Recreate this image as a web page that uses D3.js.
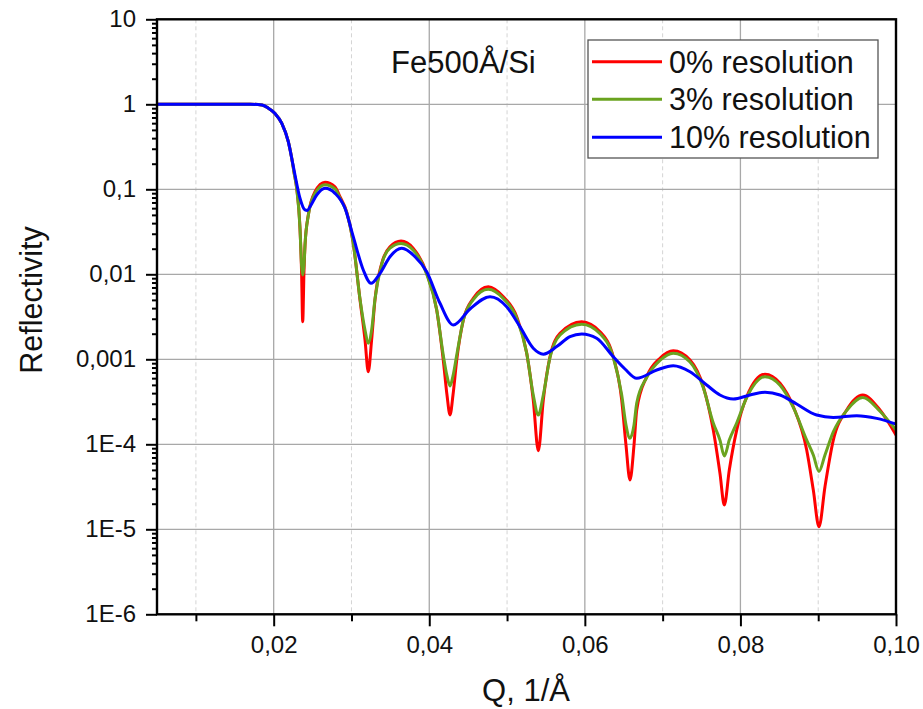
<!DOCTYPE html>
<html>
<head>
<meta charset="utf-8">
<script src="https://cdn.jsdelivr.net/npm/d3@7"></script>
<style>
  html, body { margin: 0; padding: 0; background: #fff; }
  svg { display: block; font-family: "Liberation Sans", Arial, sans-serif; }
</style>
</head>
<body>
<svg id="chart" width="923" height="709"></svg>
<script>
// Reflectivity curves of a 500 Å Fe film on Si for three instrumental resolutions.

// Q grid shared by the 0% and 3% resolution curves (1/Å)
const qSharp = [
  0.005, 0.0105, 0.0170, 0.0185, 0.01931, 0.02017, 0.02103, 0.02188, 0.02232, 0.02261,
  0.02296, 0.02338, 0.02358, 0.02373, 0.0239, 0.02403, 0.02445, 0.02531, 0.0266, 0.02788,
  0.02852, 0.02939, 0.03023, 0.0311, 0.03174, 0.03216, 0.03259, 0.03302, 0.03389, 0.03495,
  0.03637, 0.03795, 0.03967, 0.04096, 0.0418, 0.04228, 0.04267, 0.04305, 0.04353, 0.04438,
  0.04566, 0.04759, 0.04952, 0.05124, 0.05253, 0.05337, 0.05402, 0.05466, 0.05552, 0.05681,
  0.0596, 0.06195, 0.06366, 0.06474, 0.06529, 0.0658, 0.06632, 0.06667, 0.06795, 0.06966,
  0.07137, 0.07352, 0.07523, 0.07651, 0.07737, 0.07793, 0.07857, 0.07952, 0.08081, 0.08316,
  0.08509, 0.0868, 0.08852, 0.08937, 0.0901, 0.09087, 0.09194, 0.09366, 0.09572, 0.09794,
  0.1
];

// 0% resolution
const rRes0 = [
  1.0, 1.0, 1.0, 0.981, 0.90, 0.78, 0.60, 0.363, 0.232, 0.160,
  0.103, 0.0348, 0.0112, 0.00277, 0.0112, 0.0221, 0.0499, 0.0937, 0.121, 0.107,
  0.0818, 0.054, 0.0232, 0.00499, 0.00169, 0.000714, 0.00169, 0.00499, 0.01346, 0.0211,
  0.0246, 0.0202, 0.01028, 0.0038, 0.00098, 0.00038, 0.000221, 0.00038, 0.00098, 0.0029,
  0.00522, 0.00715, 0.00545, 0.00317, 0.00118, 0.000332, 8.41e-5, 0.000332, 0.00107, 0.00202,
  0.00277, 0.00211, 0.00107, 0.000332, 9.8e-5, 3.8e-5, 9.8e-5, 0.000253, 0.000624, 0.00103,
  0.00126, 0.00098, 0.000476, 0.000147, 4.56e-5, 1.93e-5, 4.99e-5, 0.000147, 0.000363, 0.000667,
  0.000522, 0.000277, 8.57e-5, 2.9e-5, 1.07e-5, 3.17e-5, 0.000112, 0.000253, 0.00038, 0.000253,
  0.000129
];

// 3% resolution
const rRes3 = [
  1.0, 1.0, 1.0, 0.981, 0.90, 0.78, 0.60, 0.363, 0.232, 0.158,
  0.102, 0.0352, 0.0129, 0.0098, 0.0129, 0.0224, 0.0492, 0.0900, 0.113, 0.101,
  0.0785, 0.053, 0.0232, 0.0051, 0.00221, 0.00154, 0.00221, 0.0051, 0.0132, 0.0203,
  0.0230, 0.0192, 0.0100, 0.0038, 0.00112, 0.000637, 0.000485, 0.000637, 0.00112, 0.0029,
  0.00505, 0.00669, 0.00520, 0.00305, 0.00118, 0.00038, 0.000221, 0.00038, 0.00105, 0.00193,
  0.00259, 0.00200, 0.00105, 0.00038, 0.000169, 0.000118, 0.000169, 0.000306, 0.000610, 0.00097,
  0.00118, 0.00093, 0.000462, 0.000178, 0.000112, 7.28e-5, 0.000112, 0.000178, 0.000355, 0.000624,
  0.000495, 0.000272, 0.000112, 7.48e-5, 4.79e-5, 7.48e-5, 0.00014, 0.000250, 0.000355, 0.000245,
  0.000147
];

// 10% resolution
const qRes10 = [
  0.005, 0.0105, 0.0170, 0.0185, 0.01931, 0.02017, 0.02103, 0.02188, 0.02232, 0.02274,
  0.02338, 0.02403, 0.02432, 0.02467, 0.02553, 0.0266, 0.02788, 0.02917, 0.03023, 0.03152,
  0.03251, 0.03367, 0.03495, 0.03646, 0.03817, 0.03967, 0.04138, 0.04309, 0.04524, 0.04781,
  0.04995, 0.05166, 0.05337, 0.05466, 0.05638, 0.05809, 0.0596, 0.06152, 0.06366, 0.06516,
  0.06667, 0.06924, 0.07137, 0.07352, 0.07566, 0.07737, 0.07908, 0.08123, 0.08316, 0.08509,
  0.08723, 0.0898, 0.09194, 0.09495, 0.09752, 0.1
];
const rRes10 = [
  1.0, 1.0, 1.0, 0.981, 0.90, 0.78, 0.60, 0.363, 0.232, 0.147,
  0.0784, 0.0571, 0.0563, 0.0624, 0.0857, 0.1028, 0.0897, 0.0598, 0.0277, 0.01124,
  0.00783, 0.01028, 0.0161, 0.0202, 0.0161, 0.01074, 0.00456, 0.00253, 0.00391, 0.00545,
  0.00416, 0.00242, 0.00135, 0.00115, 0.00141, 0.00185, 0.00199, 0.00177, 0.00107, 0.000769,
  0.000598, 0.000748, 0.000842, 0.000715, 0.000499, 0.00038, 0.000341, 0.00038, 0.000409, 0.00038,
  0.000298, 0.000221, 0.000207, 0.000217, 0.000202, 0.000173
];

const seriesNames = ["0% resolution", "3% resolution", "10% resolution"];
const seriesColors = ["#ff0000", "#6aa31f", "#0000ff"];

// Axis ticks
const xTickValues = [0.02, 0.04, 0.06, 0.08, 0.10];
const xTickLabels = ["0,02", "0,04", "0,06", "0,08", "0,10"];
const xMinorValues = [0.01, 0.03, 0.05, 0.07, 0.09];
const yTickValues = [1e-6, 1e-5, 1e-4, 1e-3, 1e-2, 1e-1, 1, 10];
const yTickLabels = ["1E-6", "1E-5", "1E-4", "0,001", "0,01", "0,1", "1", "10"];

const sampleLabel = "Fe500Å/Si";
const xTitle = "Q, 1/Å";
const yTitle = "Reflectivity";

// ---- layout ----
const svg = d3.select("#chart");
const plotL = 157, plotR = 896, plotT = 19.3, plotB = 614.3;

const x = d3.scaleLinear().domain([0.005, 0.10]).range([plotL, plotR]);
const y = d3.scaleLog().domain([1e-6, 10]).range([plotB, plotT]);

// minor y ticks: 2..9 in every decade
const yMinorValues = [];
for (let e = -6; e < 1; e++) {
  for (let m = 2; m <= 9; m++) yMinorValues.push(m * Math.pow(10, e));
}

// ---- grid ----
const grid = svg.append("g");
grid.selectAll("line.xminor").data(xMinorValues).join("line")
  .attr("x1", d => x(d)).attr("x2", d => x(d))
  .attr("y1", plotT).attr("y2", plotB)
  .attr("stroke", "#d4d4d4").attr("stroke-width", 1)
  .attr("stroke-dasharray", "4,3");
grid.selectAll("line.xmajor").data(xTickValues.filter(d => d < 0.1)).join("line")
  .attr("x1", d => x(d)).attr("x2", d => x(d))
  .attr("y1", plotT).attr("y2", plotB)
  .attr("stroke", "#a8a8a8").attr("stroke-width", 1.3);
grid.selectAll("line.ymajor").data(yTickValues.slice(1, -1)).join("line")
  .attr("x1", plotL).attr("x2", plotR)
  .attr("y1", d => y(d)).attr("y2", d => y(d))
  .attr("stroke", "#a8a8a8").attr("stroke-width", 1.3);

// ---- curves ----
const line = d3.line()
  .x(d => x(d[0]))
  .y(d => y(d[1]))
  .curve(d3.curveMonotoneX);

const seriesData = [
  d3.zip(qSharp, rRes0),
  d3.zip(qSharp, rRes3),
  d3.zip(qRes10, rRes10)
];

svg.append("defs").append("clipPath").attr("id", "plotClip")
  .append("rect").attr("x", plotL).attr("y", plotT)
  .attr("width", plotR - plotL).attr("height", plotB - plotT);

const curves = svg.append("g").attr("clip-path", "url(#plotClip)");
seriesData.forEach((data, i) => {
  curves.append("path")
    .datum(data)
    .attr("d", line)
    .attr("fill", "none")
    .attr("stroke", seriesColors[i])
    .attr("stroke-width", 3)
    .attr("stroke-linejoin", "round")
    .attr("stroke-linecap", "round");
});

// ---- axes ----
const axisFont = 24;

const yAxis = svg.append("g").attr("transform", `translate(${plotL},0)`)
  .call(d3.axisLeft(y).tickValues(yTickValues)
    .tickFormat((d, i) => yTickLabels[i]).tickSize(11).tickPadding(10));
const yMinor = svg.append("g").attr("transform", `translate(${plotL},0)`)
  .call(d3.axisLeft(y).tickValues(yMinorValues).tickFormat("").tickSize(5));

const xAxis = svg.append("g").attr("transform", `translate(0,${plotB})`)
  .call(d3.axisBottom(x).tickValues(xTickValues)
    .tickFormat((d, i) => xTickLabels[i]).tickSize(12).tickPadding(10));
const xMinor = svg.append("g").attr("transform", `translate(0,${plotB})`)
  .call(d3.axisBottom(x).tickValues(xMinorValues).tickFormat("").tickSize(7));

[yAxis, yMinor, xAxis, xMinor].forEach(g => {
  g.select(".domain").remove();
  g.selectAll(".tick line").attr("stroke", "#000").attr("stroke-width", 2);
  g.selectAll("text").attr("font-size", axisFont).attr("fill", "#111")
    .attr("font-family", "'Liberation Sans', Arial, sans-serif");
});

// frame
svg.append("rect")
  .attr("x", plotL).attr("y", plotT)
  .attr("width", plotR - plotL).attr("height", plotB - plotT)
  .attr("fill", "none").attr("stroke", "#000").attr("stroke-width", 2.4);

// ---- titles ----
svg.append("text")
  .attr("x", 526).attr("y", 701)
  .attr("text-anchor", "middle")
  .attr("font-size", 31).attr("fill", "#111")
  .text(xTitle);

svg.append("text")
  .attr("transform", "translate(42,300) rotate(-90)")
  .attr("text-anchor", "middle")
  .attr("font-size", 30.5).attr("fill", "#111")
  .text(yTitle);

svg.append("text")
  .attr("x", 391).attr("y", 73)
  .attr("font-size", 31).attr("fill", "#111")
  .text(sampleLabel);

// ---- legend ----
const legend = svg.append("g");
legend.append("rect")
  .attr("x", 588).attr("y", 40).attr("width", 290).attr("height", 118)
  .attr("fill", "#fff").attr("stroke", "#555").attr("stroke-width", 1.3);
const rowY = [61.7, 99.3, 137.3];
seriesNames.forEach((name, i) => {
  legend.append("line")
    .attr("x1", 592).attr("x2", 662)
    .attr("y1", rowY[i]).attr("y2", rowY[i])
    .attr("stroke", seriesColors[i]).attr("stroke-width", 3);
  legend.append("text")
    .attr("x", 669).attr("y", rowY[i])
    .attr("dy", "0.36em")
    .attr("font-size", 30.5).attr("fill", "#111")
    .text(name);
});
</script>
</body>
</html>
